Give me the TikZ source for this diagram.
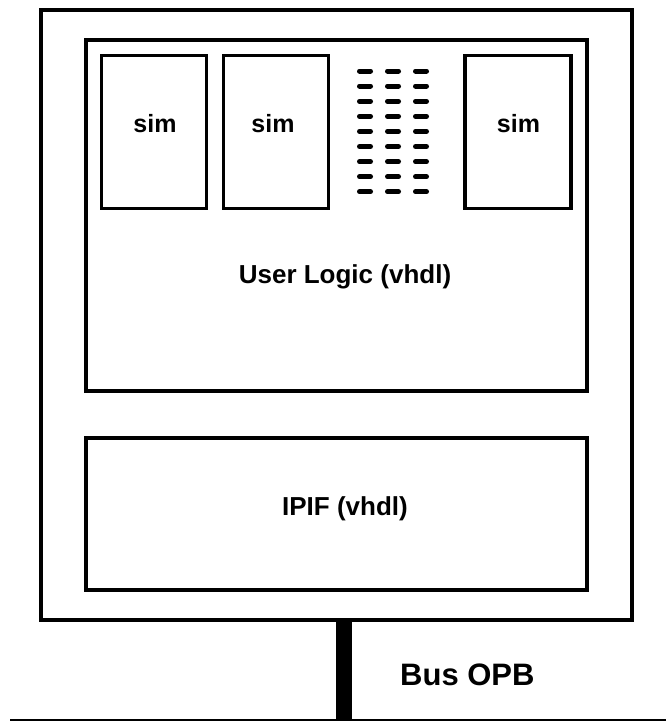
\documentclass[tikz,border=0pt]{standalone}
\usepackage{fontspec}
\setmainfont{Liberation Sans}
\begin{document}
\begin{tikzpicture}[x=1pt,y=-1pt,
  box/.style={draw=black, line width=3.5pt, rectangle, inner sep=0pt, fill=white},
  lbl/.style={font=\bfseries\fontsize{26}{30}\selectfont, anchor=base, inner sep=0pt},
  simlbl/.style={font=\bfseries\fontsize{25}{30}\selectfont, anchor=base, inner sep=0pt},
  buslbl/.style={font=\bfseries\fontsize{31}{36}\selectfont, anchor=base west, inner sep=0pt},
  dashmark/.style={line width=5pt, line cap=round},
  bus/.style={line width=16pt},
  ground/.style={line width=1.5pt}]
\useasboundingbox (0,0) rectangle (666,721);
\fill[white] (0,0) rectangle (666,721);

% outer component
\node[box, minimum width=591pt, minimum height=610pt] (outer) at (336.5,315) {};

% user logic
\node[box, minimum width=501pt, minimum height=351pt] (ul) at (336.5,215.5) {};
\node[lbl] (ultxt) at (345,283) {User Logic (vhdl)};

% sim blocks
\node[box, minimum width=105pt, minimum height=153pt] (sim1) at (154,132) {};
\node[box, minimum width=105pt, minimum height=153pt] (sim2) at (276,132) {};
\node[box, minimum width=106pt, minimum height=153pt] (sim3) at (518,132) {};
\node[simlbl] (s1t) at (155,132) {sim};
\node[simlbl] (s2t) at (273,132) {sim};
\node[simlbl] (s3t) at (518.5,132) {sim};

% dashes
\foreach \r in {0,...,8}{
  \foreach \c in {365,393,421}{
    \draw[dashmark] ({\c-5.5},{71+15.1*\r}) -- ({\c+5.5},{71+15.1*\r});
  }
}

% IPIF
\node[box, minimum width=501pt, minimum height=152pt] (ipif) at (336.5,514) {};
\node[lbl] (iptxt) at (345,515) {IPIF (vhdl)};

% bus
\coordinate (busbot) at (344,721);
\coordinate (gl) at (10,720);
\coordinate (gr) at (666,720);
\draw[bus] (outer.south -| busbot) -- (busbot);
\draw[ground] (gl) -- (gr);
\node[buslbl] (bustxt) at (400,685) {Bus OPB};
\end{tikzpicture}
\end{document}
